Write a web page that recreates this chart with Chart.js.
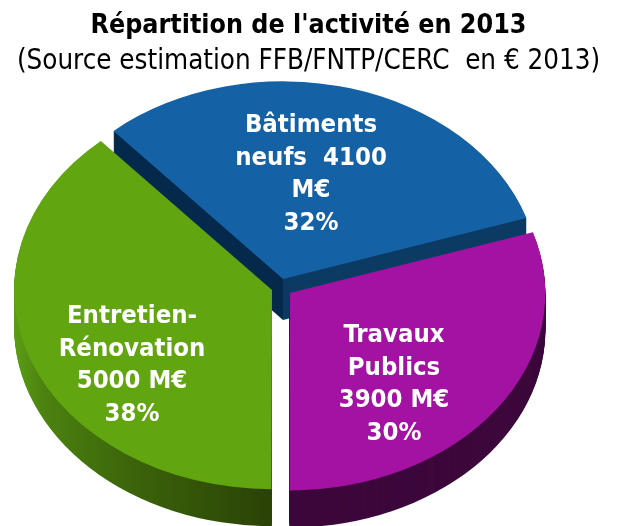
<!DOCTYPE html>
<html><head><meta charset="utf-8">
<style>html,body{margin:0;padding:0;background:#fff;overflow:hidden}canvas{display:block}</style>
<script src="https://cdn.jsdelivr.net/npm/chart.js@4"></script>
</head><body><canvas id="c" width="617" height="526"></canvas>
<script>
const categories = ["Bâtiments neufs", "Travaux Publics", "Entretien-Rénovation"];
const values = [4100, 3900, 5000];
const percents = [32, 30, 38];
const labelLines = [
  ["Bâtiments", "neufs  4100", "M€", "32%"],
  ["Travaux", "Publics", "3900 M€", "30%"],
  ["Entretien-", "Rénovation", "5000 M€", "38%"]
];
const colors = ["#1561a5", "#a312a3", "#61a511"];
const titleText = "Répartition de l'activité en 2013";
const subtitleText = "(Source estimation FFB/FNTP/CERC  en € 2013)";

const FONT = "'DejaVu Sans Condensed','DejaVu Sans',sans-serif";
const view = {cx: 280, cy: 287.6, rx: 255, ry: 197};
const depths = [41, 37, 37];
const labelPos = [{x: 311, y: 125}, {x: 394, y: 335}, {x: 132, y: 316}];
const sideDraw = [0, 2, 1];

function sideFill(ctx, i, toUserX) {
  if (i === 0) {
    const h = ctx.createLinearGradient(toUserX(278), 0, toUserX(288), 0);
    h.addColorStop(0, "#05294b"); h.addColorStop(0.49, "#05294b");
    h.addColorStop(0.51, "#0b3a62"); h.addColorStop(1, "#0b3a62");
    return h;
  }
  if (i === 1) return "#3c083c";
  const g = ctx.createLinearGradient(toUserX(16), 0, toUserX(290), 0);
  g.addColorStop(0, "#5a9c14"); g.addColorStop(0.1, "#4c8210");
  g.addColorStop(0.45, "#3a620a"); g.addColorStop(0.95, "#2a4106"); g.addColorStop(1, "#2a4106");
  return g;
}

const pie3d = {
  id: "pie3d",
  beforeDatasetsDraw(chart) {
    const ctx = chart.ctx, arcs = chart.getDatasetMeta(0).data;
    const a0 = arcs[0], sx = view.rx / a0.outerRadius, sy = view.ry / a0.outerRadius;
    ctx.save();
    ctx.translate(view.cx, view.cy);
    ctx.scale(sx, sy);
    ctx.translate(-a0.x, -a0.y);
    const toUserX = px => (px - view.cx) / sx + a0.x;
    sideDraw.forEach(i => {
      const a = arcs[i], mid = (a.startAngle + a.endAngle) / 2, off = (a.options.offset || 0) / 4;
      const fix = 1 - Math.sin(Math.min(Math.PI, a.endAngle - a.startAngle));
      const r = a.outerRadius + off * fix;
      ctx.fillStyle = sideFill(ctx, i, toUserX);
      for (let d = depths[i]; d >= 1; d--) {
        const ox = a.x + Math.cos(mid) * off, oy = a.y + Math.sin(mid) * off + d / sy;
        ctx.beginPath();
        ctx.moveTo(ox, oy);
        ctx.arc(ox, oy, r, a.startAngle, a.endAngle);
        ctx.closePath();
        ctx.fill();
      }
    });
  },
  afterDatasetsDraw(chart) {
    const ctx = chart.ctx;
    ctx.restore();
    ctx.save();
    ctx.fillStyle = "#fff";
    ctx.font = "bold 25.5px " + FONT;
    ctx.textAlign = "center";
    ctx.textBaseline = "middle";
    labelLines.forEach((lines, i) => {
      lines.forEach((t, j) => ctx.fillText(t, labelPos[i].x, labelPos[i].y + j * 32.9));
    });
    ctx.restore();
  }
};

new Chart(document.getElementById("c"), {
  type: "pie",
  plugins: [pie3d],
  data: {labels: categories, datasets: [{
    data: values, backgroundColor: colors, borderWidth: 0, offset: [36, 38, 27], clip: false
  }]},
  options: {
    responsive: false, animation: false, rotation: -41.5,
    plugins: {
      legend: {display: false}, tooltip: {enabled: false},
      title: {display: true, text: titleText, color: "#000", fullSize: true,
        font: {family: FONT, size: 26.6, weight: "bold"}, padding: {top: 10, bottom: 0}},
      subtitle: {display: true, text: subtitleText, color: "#000", fullSize: true,
        font: {family: FONT, size: 27.5, weight: "normal"}, padding: {top: 3, bottom: 8}}
    }
  }
});
</script></body></html>
